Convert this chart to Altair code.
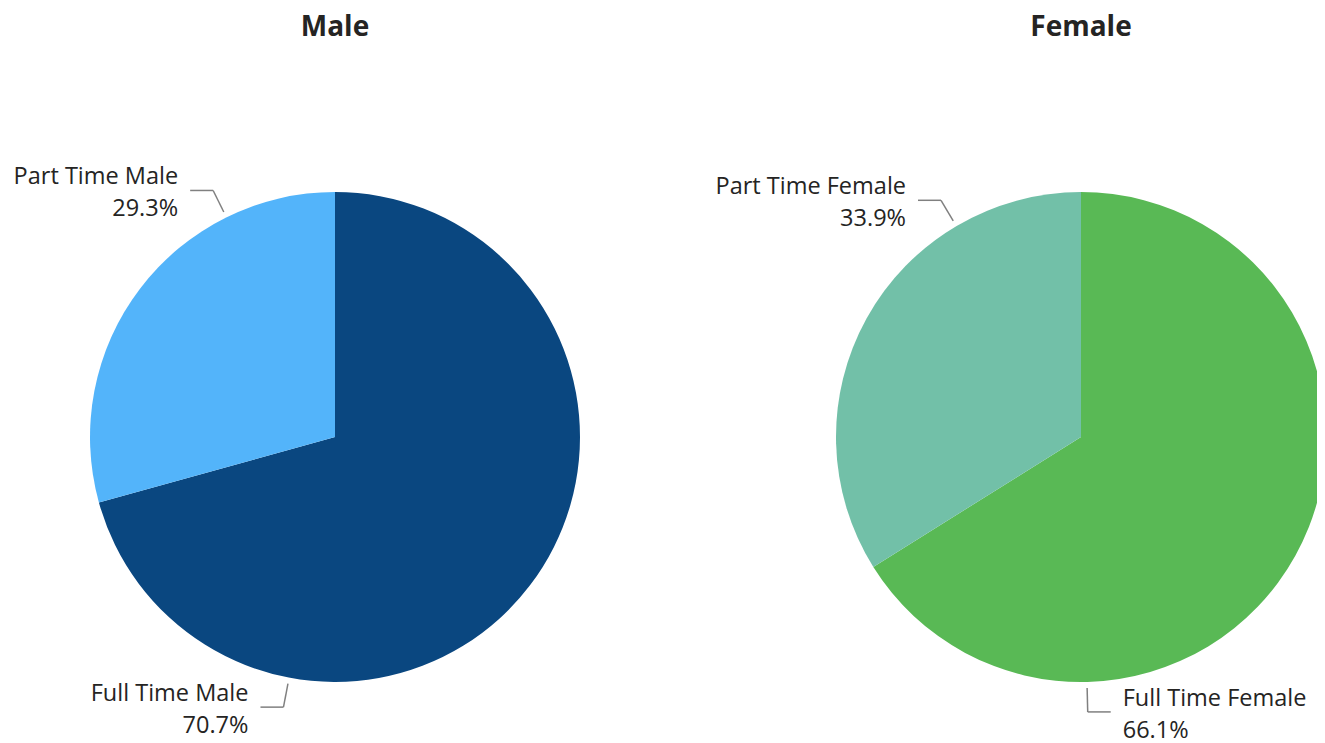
import math
import altair as alt
import pandas as pd

# ---- data ----
gender = ["Male", "Male", "Female", "Female"]
category = ["Full Time Male", "Part Time Male", "Full Time Female", "Part Time Female"]
percent = [70.7, 29.3, 66.1, 33.9]
slice_order = [0, 1, 0, 1]

# ---- layout / style ----
W, H = 1309, 735
PIE_CX = {"Male": 327, "Female": 1073}
PIE_CY = 429
RADIUS = 245
LEADER_ANGLE = {"Full Time Male": 190.8, "Part Time Male": 333.7,
                "Full Time Female": 178.6, "Part Time Female": 329.4}
COLORS = ["#0a4780", "#53b4fa", "#59b955", "#72c0a8"]
FONT = "Open Sans"
TEXT_COLOR = "#252423"
LABEL_SIZE = 23.5

df = pd.DataFrame({
    "gender": gender,
    "category": category,
    "value": percent,
    "order": slice_order,
})
df["cx"] = df["gender"].map(PIE_CX)
df["cy"] = PIE_CY
df["angle"] = df["category"].map(LEADER_ANGLE)

xs = alt.Scale(domain=[0, W], nice=False, zero=False)
ys = alt.Scale(domain=[0, H], nice=False, zero=False, reverse=True)

base = alt.Chart(df).transform_window(
    t1="sum(value)", groupby=["gender"], sort=[alt.SortField("order")], frame=[None, 0]
).transform_calculate(
    t0="datum.t1 - datum.value",
    sa="sin(datum.angle * PI / 180)",
    ca="cos(datum.angle * PI / 180)",
).transform_calculate(
    side="datum.sa < 0 ? -1 : 1",
    x_s="datum.cx + 251 * datum.sa",
    y_s="datum.cy - 251 * datum.ca",
    x_e="datum.cx + 275 * datum.sa",
    y_e="datum.cy - 275 * datum.ca",
).transform_calculate(
    x_h="datum.x_e + datum.side * 23",
    x_t="datum.x_e + datum.side * 35",
    y_t1="datum.y_e - 13",
    y_t2="datum.y_e + 19",
    pct="format(datum.value, '.1f') + '%'",
)

arcs = base.mark_arc(radius=RADIUS).encode(
    theta=alt.Theta("t0:Q", stack=None, scale=alt.Scale(domain=[0, 100], range=[0, 2 * math.pi])),
    theta2="t1:Q",
    x=alt.X("cx:Q", scale=xs, axis=None),
    y=alt.Y("cy:Q", scale=ys, axis=None),
    color=alt.Color("category:N", scale=alt.Scale(domain=category, range=COLORS), legend=None),
)

lead1 = base.mark_rule(color="#808080", strokeWidth=1.5).encode(
    x=alt.X("x_s:Q", scale=xs, axis=None), y=alt.Y("y_s:Q", scale=ys, axis=None),
    x2="x_e:Q", y2="y_e:Q",
)
lead2 = base.mark_rule(color="#808080", strokeWidth=1.5).encode(
    x=alt.X("x_e:Q", scale=xs, axis=None), y=alt.Y("y_e:Q", scale=ys, axis=None),
    x2="x_h:Q", y2="y_e:Q",
)

def labels(side, align):
    b = base.transform_filter(f"datum.side == {side}")
    l1 = b.mark_text(align=align, baseline="middle", font=FONT, fontSize=LABEL_SIZE, color=TEXT_COLOR).encode(
        x=alt.X("x_t:Q", scale=xs, axis=None), y=alt.Y("y_t1:Q", scale=ys, axis=None), text="category:N",
    )
    l2 = b.mark_text(align=align, baseline="middle", font=FONT, fontSize=LABEL_SIZE, color=TEXT_COLOR).encode(
        x=alt.X("x_t:Q", scale=xs, axis=None), y=alt.Y("y_t2:Q", scale=ys, axis=None), text="pct:N",
    )
    return l1 + l2

titles = alt.Chart(df).transform_aggregate(
    cx="min(cx)", groupby=["gender"]
).transform_calculate(ty="20").mark_text(
    align="center", baseline="middle", font=FONT, fontSize=28, fontWeight="bold", color=TEXT_COLOR
).encode(
    x=alt.X("cx:Q", scale=xs, axis=None), y=alt.Y("ty:Q", scale=ys, axis=None), text="gender:N",
)

chart = alt.layer(arcs, lead1, lead2, labels(-1, "right"), labels(1, "left"), titles).properties(
    width=W, height=H, padding=0, autosize=alt.AutoSizeParams(type="none"),
).configure_view(stroke=None)

chart.save("out.html", embed_options={"renderer": "svg", "actions": False})
